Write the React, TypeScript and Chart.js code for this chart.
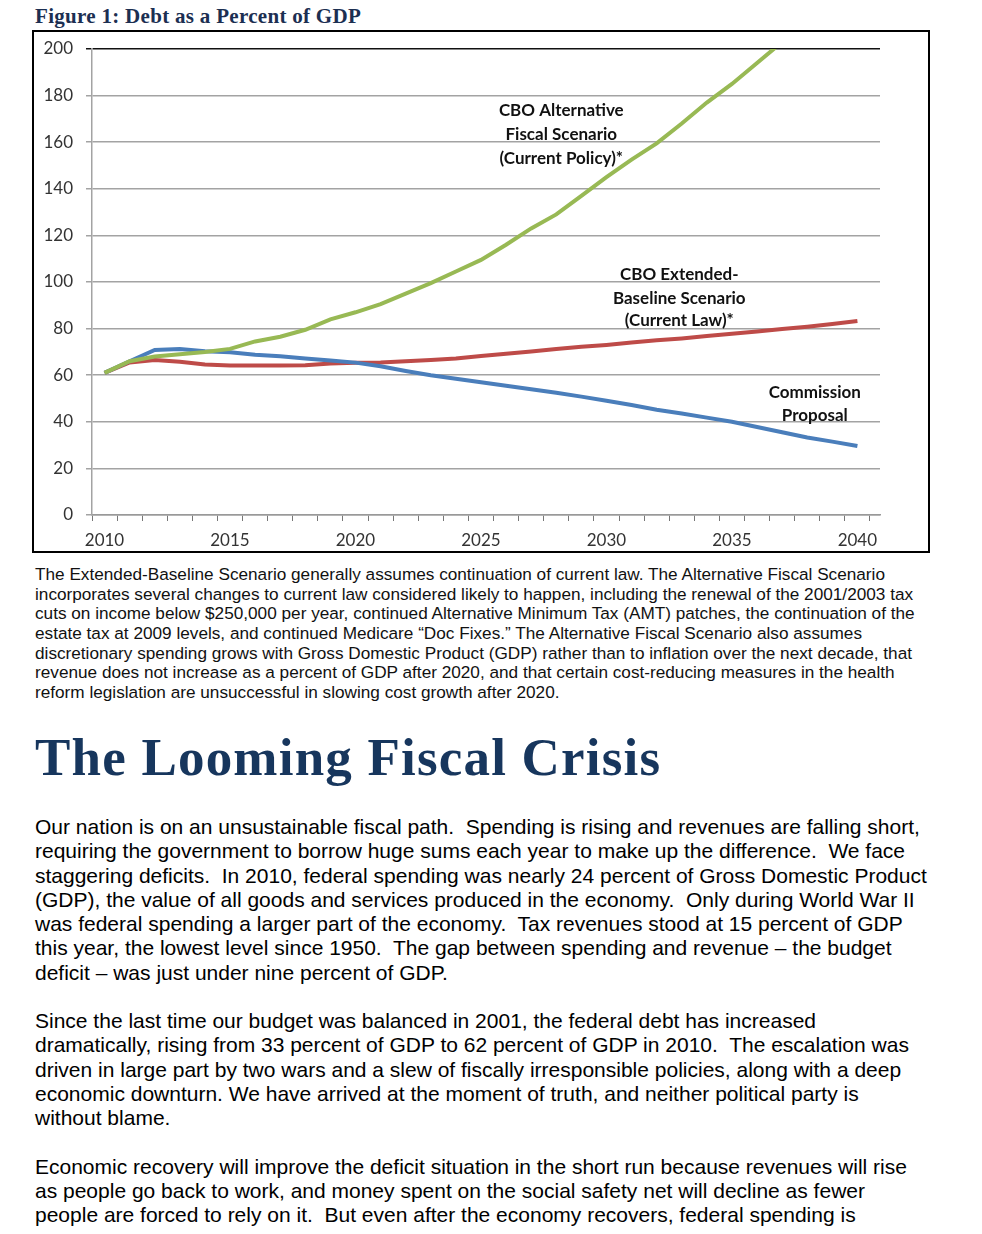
import React, { useEffect, useRef } from "react";
import { Chart, registerables } from "chart.js";

Chart.register(...registerables);

// ---------- data ----------
const years = [
  2010, 2011, 2012, 2013, 2014, 2015, 2016, 2017, 2018, 2019, 2020,
  2021, 2022, 2023, 2024, 2025, 2026, 2027, 2028, 2029, 2030,
  2031, 2032, 2033, 2034, 2035, 2036, 2037, 2038, 2039, 2040,
];
const commissionProposal = [
  61, 66, 70.8, 71.2, 70.3, 69.8, 68.8, 68.1, 67.2, 66.3, 65.4,
  63.8, 61.8, 60, 58.5, 57, 55.5, 54, 52.5, 50.8, 49,
  47.2, 45.2, 43.6, 41.8, 40, 37.8, 35.5, 33.3, 31.5, 29.6,
];
const extendedBaseline = [
  61, 65.5, 66.5, 65.8, 64.6, 64.2, 64.2, 64.2, 64.3, 65, 65.3,
  65.5, 66, 66.5, 67.2, 68.2, 69.2, 70.2, 71.2, 72.2, 73,
  74, 75, 75.8, 76.8, 77.8, 78.8, 79.8, 80.8, 82, 83.3,
];
const alternativeFiscal = [
  61, 66, 68, 69, 70, 71.3, 74.5, 76.5, 79.5, 84, 87,
  90.5, 95, 99.5, 104.5, 109.5, 116, 123, 129, 137, 145,
  152.5, 159.5, 168, 177, 185, 194, 203,
];
const xLabelYears = [2010, 2015, 2020, 2025, 2030, 2035, 2040];
const yTickValues = [0, 20, 40, 60, 80, 100, 120, 140, 160, 180, 200];

const altLabel = ["CBO Alternative", "Fiscal Scenario", "(Current Policy)*"];
const extLabel = ["CBO Extended-", "Baseline Scenario", "(Current Law)*"];
const comLabel = ["Commission", "Proposal"];
// label anchors in data units (year, percent of GDP)
const altAnchor = { year: 2028.2, values: [173.4, 163.5, 153.2] };
const extAnchor = { year: 2032.9, values: [103.4, 93.1, 83.3] };
const comAnchor = { year: 2038.3, values: [52.4, 42.9] };

const captionLines = [
  "The Extended-Baseline Scenario generally assumes continuation of current law. The Alternative Fiscal Scenario",
  "incorporates several changes to current law considered likely to happen, including the renewal of the 2001/2003 tax",
  "cuts on income below $250,000 per year, continued Alternative Minimum Tax (AMT) patches, the continuation of the",
  "estate tax at 2009 levels, and continued Medicare \u201cDoc Fixes.\u201d The Alternative Fiscal Scenario also assumes",
  "discretionary spending grows with Gross Domestic Product (GDP) rather than to inflation over the next decade, that",
  "revenue does not increase as a percent of GDP after 2020, and that certain cost-reducing measures in the health",
  "reform legislation are unsuccessful in slowing cost growth after 2020.",
];

const bodyLines = [
  "Our nation is on an unsustainable fiscal path.  Spending is rising and revenues are falling short,",
  "requiring the government to borrow huge sums each year to make up the difference.  We face",
  "staggering deficits.  In 2010, federal spending was nearly 24 percent of Gross Domestic Product",
  "(GDP), the value of all goods and services produced in the economy.  Only during World War II",
  "was federal spending a larger part of the economy.  Tax revenues stood at 15 percent of GDP",
  "this year, the lowest level since 1950.  The gap between spending and revenue \u2013 the budget",
  "deficit \u2013 was just under nine percent of GDP.",
  "",
  "Since the last time our budget was balanced in 2001, the federal debt has increased",
  "dramatically, rising from 33 percent of GDP to 62 percent of GDP in 2010.  The escalation was",
  "driven in large part by two wars and a slew of fiscally irresponsible policies, along with a deep",
  "economic downturn. We have arrived at the moment of truth, and neither political party is",
  "without blame.",
  "",
  "Economic recovery will improve the deficit situation in the short run because revenues will rise",
  "as people go back to work, and money spent on the social safety net will decline as fewer",
  "people are forced to rely on it.  But even after the economy recovers, federal spending is",
];

const toPoints = (vals: number[]) => vals.map((v, i) => ({ x: years[i], y: v }));

const annotationPlugin = {
  id: "seriesLabels",
  afterDatasetsDraw(chart: any) {
    const { ctx, scales } = chart;
    const xs = scales.x;
    const ys = scales.y;
    ctx.save();
    ctx.font = "bold 17px Lato";
    ctx.fillStyle = "#111";
    ctx.textAlign = "center";
    ctx.textBaseline = "middle";
    const draw = (lines: string[], anchor: { year: number; values: number[] }) => {
      lines.forEach((t, i) => {
        ctx.fillText(t, xs.getPixelForValue(anchor.year), ys.getPixelForValue(anchor.values[i]));
      });
    };
    draw(altLabel, altAnchor);
    draw(extLabel, extAnchor);
    draw(comLabel, comAnchor);
    ctx.restore();
  },
};

function DebtChart() {
  const ref = useRef<HTMLCanvasElement | null>(null);
  useEffect(() => {
    if (!ref.current) return;
    const chart = new Chart(ref.current, {
      type: "line",
      data: {
        datasets: [
          {
            label: "CBO Alternative Fiscal Scenario",
            data: toPoints(alternativeFiscal),
            borderColor: "#98B954",
            borderWidth: 4,
            pointRadius: 0,
            tension: 0,
            order: 0,
          },
          {
            label: "Commission Proposal",
            data: toPoints(commissionProposal),
            borderColor: "#4A7EBB",
            borderWidth: 4,
            pointRadius: 0,
            tension: 0,
            order: 1,
          },
          {
            label: "CBO Extended-Baseline Scenario",
            data: toPoints(extendedBaseline),
            borderColor: "#BE4B48",
            borderWidth: 4,
            pointRadius: 0,
            tension: 0,
            order: 2,
          },
        ],
      },
      options: {
        animation: false,
        responsive: false,
        maintainAspectRatio: false,
        layout: { padding: { top: 17, right: 48, left: 0, bottom: 0 } },
        plugins: { legend: { display: false }, tooltip: { enabled: false } },
        scales: {
          x: {
            type: "linear",
            min: years[0] - 0.5,
            max: years[years.length - 1] + 0.9,
            afterBuildTicks: (scale: any) => {
              scale.ticks = [...years, years[years.length - 1] + 1].map((y) => ({ value: y - 0.5 }));
            },
            afterFit: (scale: any) => {
              scale.height = 36;
              scale.paddingLeft = 0;
              scale.paddingRight = 0;
            },
            ticks: {
              autoSkip: false,
              maxRotation: 0,
              minRotation: 0,
              labelOffset: 12.5,
              padding: 9,
              color: "#333",
              font: { family: "Lato", size: 17 },
              callback: (value: any) => {
                const yr = Math.round(Number(value) + 0.5);
                return xLabelYears.includes(yr) ? String(yr) : "";
              },
            },
            grid: { drawOnChartArea: false, drawTicks: true, tickLength: 6, color: "#777", lineWidth: 1 },
            border: { color: "#999", width: 1.5 },
          },
          y: {
            type: "linear",
            min: 0,
            max: 200,
            afterBuildTicks: (scale: any) => {
              scale.ticks = yTickValues.map((v) => ({ value: v }));
            },
            afterFit: (scale: any) => {
              scale.width = 58;
              scale.paddingTop = 0;
              scale.paddingBottom = 0;
            },
            ticks: {
              padding: 13,
              color: "#333",
              font: { family: "Lato", size: 17 },
            },
            grid: {
              tickLength: 6,
              lineWidth: 1.5,
              color: (c: any) => (c.tick && c.tick.value === 200 ? "#111" : "#a3a3a3"),
            },
            border: { color: "#a3a3a3", width: 1.5 },
          },
        },
      },
      plugins: [annotationPlugin],
    });
    return () => chart.destroy();
  }, []);
  return <canvas ref={ref} width={894} height={519} style={{ display: "block", width: 894, height: 519 }} />;
}

export default function App() {
  return (
    <div style={{ position: "absolute", left: 0, top: 0, width: 982, height: 1234, background: "#fff", overflow: "hidden" }}>
      <div
        style={{
          position: "absolute",
          left: 35,
          top: 6,
          fontFamily: "'Liberation Serif', serif",
          fontWeight: "bold",
          fontSize: 21,
          letterSpacing: "0.3px",
          lineHeight: "21px",
          color: "#1c2f52",
          whiteSpace: "pre",
        }}
      >
        Figure 1: Debt as a Percent of GDP
      </div>
      <div
        style={{
          position: "absolute",
          left: 32,
          top: 30,
          width: 898,
          height: 523,
          boxSizing: "border-box",
          border: "2px solid #000",
        }}
      >
        <DebtChart />
      </div>
      <div
        style={{
          position: "absolute",
          left: 35,
          top: 565,
          fontFamily: "'Liberation Sans', Arial, sans-serif",
          fontSize: 17.2,
          lineHeight: "19.7px",
          color: "#111",
          whiteSpace: "pre",
        }}
      >
        {captionLines.map((l, i) => (
          <div key={i} style={{ height: 19.7 }}>{l}</div>
        ))}
      </div>
      <div
        style={{
          position: "absolute",
          left: 35,
          top: 730.5,
          fontFamily: "'Liberation Serif', serif",
          fontWeight: "bold",
          fontSize: 53,
          letterSpacing: "1.2px",
          lineHeight: "53px",
          color: "#17365D",
          whiteSpace: "pre",
        }}
      >
        The Looming Fiscal Crisis
      </div>
      <div
        style={{
          position: "absolute",
          left: 35,
          top: 815,
          fontFamily: "'Liberation Sans', Arial, sans-serif",
          fontSize: 21,
          lineHeight: "24.25px",
          color: "#000",
          whiteSpace: "pre",
        }}
      >
        {bodyLines.map((l, i) => (
          <div key={i} style={{ height: 24.25 }}>{l}</div>
        ))}
      </div>
    </div>
  );
}
